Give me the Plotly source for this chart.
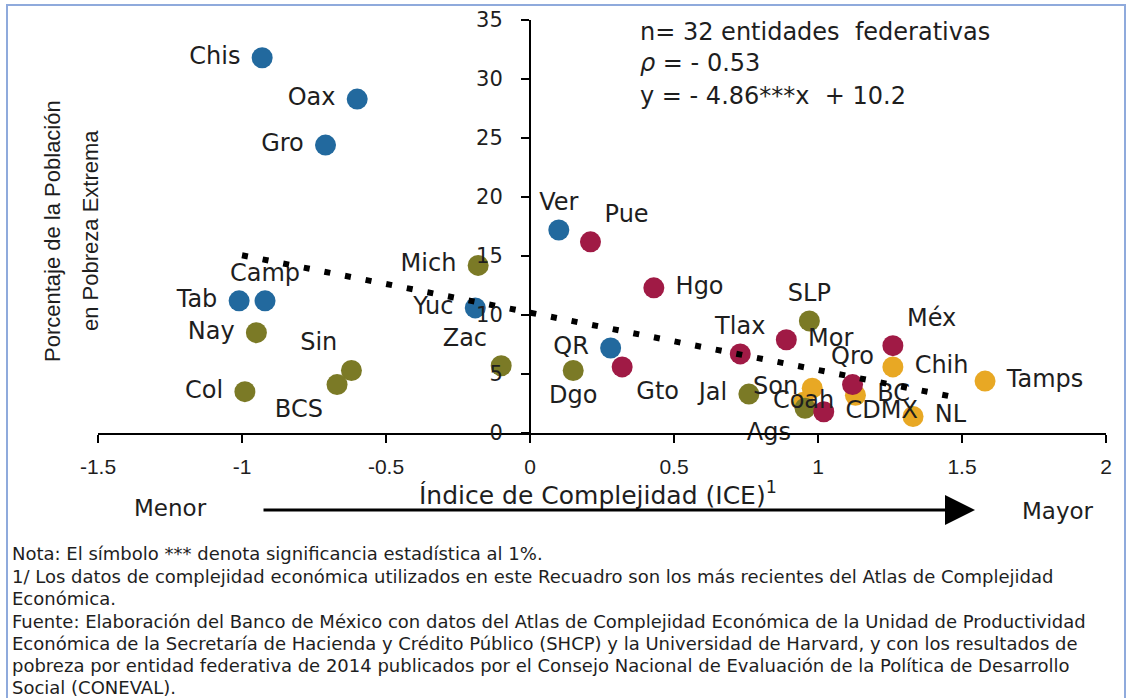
import plotly.graph_objects as go

# ---------------- data ----------------
STATES = ["Chis", "Oax", "Gro", "Ver", "Tab", "Camp", "Yuc", "QR",
          "Pue", "Hgo", "Gto", "Tlax", "Mor", "Méx", "Qro", "CDMX",
          "Mich", "Nay", "Sin", "BCS", "Col", "Zac", "Dgo", "SLP", "Jal", "Ags",
          "Coah", "Son", "BC", "Chih", "Tamps", "NL"]
ICE = [-0.93, -0.60, -0.71, 0.10, -1.01, -0.92, -0.19, 0.28,
       0.21, 0.43, 0.32, 0.73, 0.89, 1.26, 1.12, 1.02,
       -0.18, -0.95, -0.62, -0.67, -0.99, -0.10, 0.15, 0.97, 0.76, 0.955,
       0.95, 0.98, 1.13, 1.26, 1.58, 1.33]
POBREZA = [31.8, 28.3, 24.4, 17.2, 11.2, 11.2, 10.6, 7.2,
           16.2, 12.3, 5.6, 6.7, 7.9, 7.4, 4.1, 1.8,
           14.2, 8.5, 5.3, 4.1, 3.5, 5.7, 5.3, 9.5, 3.3, 2.1,
           2.6, 3.8, 3.2, 5.6, 4.4, 1.4]
REGION = ["sur"] * 8 + ["centro"] * 8 + ["centro-norte"] * 10 + ["norte"] * 6

TREND_SLOPE = -4.86
TREND_INTERCEPT = 10.2
TREND_X = [-1.0, 1.5]

X_TICKS = [-1.5, -1, -0.5, 0, 0.5, 1, 1.5, 2]
X_TICK_LABELS = ["-1.5", "-1", "-0.5", "0", "0.5", "1", "1.5", "2"]
Y_TICKS = [0, 5, 10, 15, 20, 25, 30, 35]

STATS_TEXT = ["n= 32 entidades  federativas", "<i>ρ</i> = - 0.53", "y = - 4.86***x  + 10.2"]
Y_TITLE = ["Porcentaje de la Población", "en Pobreza Extrema"]
X_TITLE = "Índice de Complejidad (ICE)<sup>1</sup>"
NOTES = [
    "Nota: El símbolo *** denota significancia estadística al 1%.",
    "1/ Los datos de complejidad económica utilizados en este Recuadro son los más recientes del Atlas de Complejidad",
    "Económica.",
    "Fuente: Elaboración del Banco de México con datos del Atlas de Complejidad Económica de la Unidad de Productividad",
    "Económica de la Secretaría de Hacienda y Crédito Público (SHCP) y la Universidad de Harvard, y con los resultados de",
    "pobreza por entidad federativa de 2014 publicados por el Consejo Nacional de Evaluación de la Política de Desarrollo",
    "Social (CONEVAL).",
]

# ---------------- styles ----------------
COLORS = {"sur": "#22699E", "centro": "#A01A45", "centro-norte": "#7B7A26", "norte": "#E8A824"}
DRAW_ORDER = ["norte", "centro-norte", "centro", "sur"]
LABEL_POS = {
    "Chis": "middle left", "Oax": "middle left", "Gro": "middle left", "Ver": "top center",
    "Tab": "middle left", "Camp": "top center", "Yuc": "middle left", "QR": "middle left",
    "Pue": "top right", "Hgo": "middle right", "Gto": "bottom right", "Tlax": "top center",
    "Mor": "middle right", "Méx": "top right", "Qro": "top center", "CDMX": "middle right",
    "Mich": "middle left", "Nay": "middle left", "Sin": "top left", "BCS": "bottom left",
    "Col": "middle left", "Zac": "top left", "Dgo": "bottom center", "SLP": "top center",
    "Jal": "middle left", "Ags": "bottom left", "Coah": "middle center", "Son": "middle left",
    "BC": "middle right", "Chih": "middle right", "Tamps": "middle right", "NL": "middle right",
}
NO_PAD = {"Son"}


def padded(name):
    pos = LABEL_POS[name]
    if name in NO_PAD:
        return name
    if pos == "middle left":
        return name + "\u00a0"
    if pos == "middle right":
        return "\u00a0" + name
    return name


W, H = 1128, 698
ML, MR, MT, MB = 98, 22, 20, 265
PW, PH = W - ML - MR, H - MT - MB
MARKER_SIZE = 21


def px(xp):
    return (xp - ML) / PW


def py(yp):
    return (H - MB - yp) / PH


INK = "#1e1e1e"
LABEL_FONT = dict(family="DejaVu Sans", size=24, color=INK)

fig = go.Figure()
# markers, one trace per region
for reg in DRAW_ORDER:
    idx = [i for i, r in enumerate(REGION) if r == reg]
    fig.add_trace(go.Scatter(
        x=[ICE[i] for i in idx],
        y=[POBREZA[i] for i in idx],
        mode="markers",
        marker=dict(size=MARKER_SIZE, color=COLORS[reg], line=dict(width=0)),
        cliponaxis=False, showlegend=False, hoverinfo="skip",
    ))
# labels on top of all markers (invisible markers keep plotly's offsets)
fig.add_trace(go.Scatter(
    x=ICE, y=POBREZA,
    text=[padded(s) for s in STATES],
    textposition=[LABEL_POS[s] for s in STATES],
    mode="markers+text",
    marker=dict(size=MARKER_SIZE, color="rgba(0,0,0,0)"),
    textfont=LABEL_FONT,
    cliponaxis=False, showlegend=False, hoverinfo="skip",
))
# regression line
fig.add_trace(go.Scatter(
    x=TREND_X,
    y=[TREND_SLOPE * v + TREND_INTERCEPT for v in TREND_X],
    mode="lines",
    line=dict(color="black", width=6, dash="6px,15px"),
    showlegend=False, hoverinfo="skip",
))

fig.update_layout(
    width=W, height=H, autosize=False,
    margin=dict(l=ML, r=MR, t=MT, b=MB, autoexpand=False),
    paper_bgcolor="white", plot_bgcolor="white",
    xaxis=dict(
        range=[-1.5, 2], tickvals=X_TICKS, ticktext=X_TICK_LABELS,
        showline=True, linecolor="black", linewidth=2,
        ticks="outside", ticklen=8, tickwidth=2, tickcolor="black",
        showgrid=False, zeroline=False,
        tickfont=dict(family="Liberation Sans", size=21, color=INK),
        ticklabelstandoff=6,
    ),
    yaxis=dict(
        range=[0, 35], tickvals=Y_TICKS,
        anchor="free", position=1.5 / 3.5,
        showline=True, linecolor="black", linewidth=2,
        ticks="outside", ticklen=8, tickwidth=2, tickcolor="black",
        showgrid=False, zeroline=False,
        tickfont=dict(family="DejaVu Sans", size=21, color=INK),
        ticklabelstandoff=14,
    ),
)

ann = []
for t, yy in zip(STATS_TEXT, [32, 63, 96]):
    ann.append(dict(text=t, x=px(638), y=py(yy), xref="paper", yref="paper",
                    xanchor="left", yanchor="middle", showarrow=False,
                    font=dict(family="DejaVu Sans", size=24, color=INK)))
for t, xx in zip(Y_TITLE, [52, 90]):
    ann.append(dict(text=t, textangle=-90, x=px(xx), y=py(231), xref="paper", yref="paper",
                    xanchor="center", yanchor="middle", showarrow=False,
                    font=dict(family="Liberation Sans", size=22, color=INK)))
ann.append(dict(text=X_TITLE, x=px(598), y=py(493),
                xref="paper", yref="paper", xanchor="center", yanchor="middle", showarrow=False,
                font=dict(family="DejaVu Sans", size=25, color=INK)))
ann.append(dict(text="Menor", x=px(170), y=py(508), xref="paper", yref="paper",
                xanchor="center", yanchor="middle", showarrow=False,
                font=dict(family="DejaVu Sans", size=23, color=INK)))
ann.append(dict(text="Mayor", x=px(1058), y=py(511), xref="paper", yref="paper",
                xanchor="center", yanchor="middle", showarrow=False,
                font=dict(family="DejaVu Sans", size=23, color=INK)))
ann.append(dict(text="", x=px(975), y=py(510), xref="paper", yref="paper",
                ax=-(975 - 262), ay=0, showarrow=True, arrowhead=2, arrowsize=2,
                arrowwidth=3, arrowcolor="black"))
for t, yy in zip(NOTES, [553, 576, 598, 621, 643, 665, 687]):
    ann.append(dict(text=t, x=px(10), y=py(yy), xref="paper", yref="paper",
                    xanchor="left", yanchor="middle", showarrow=False,
                    font=dict(family="DejaVu Sans", size=18, color=INK)))
fig.update_layout(annotations=ann)

fig.add_shape(type="rect", xref="paper", yref="paper",
              x0=px(7), x1=px(1125), y0=py(720), y1=py(5),
              line=dict(color="#8FAADC", width=2), fillcolor="rgba(0,0,0,0)", layer="below")

fig.write_html("out.html", config={"displayModeBar": False},
               post_script="document.body.style.margin='0';document.body.style.overflow='hidden';")
